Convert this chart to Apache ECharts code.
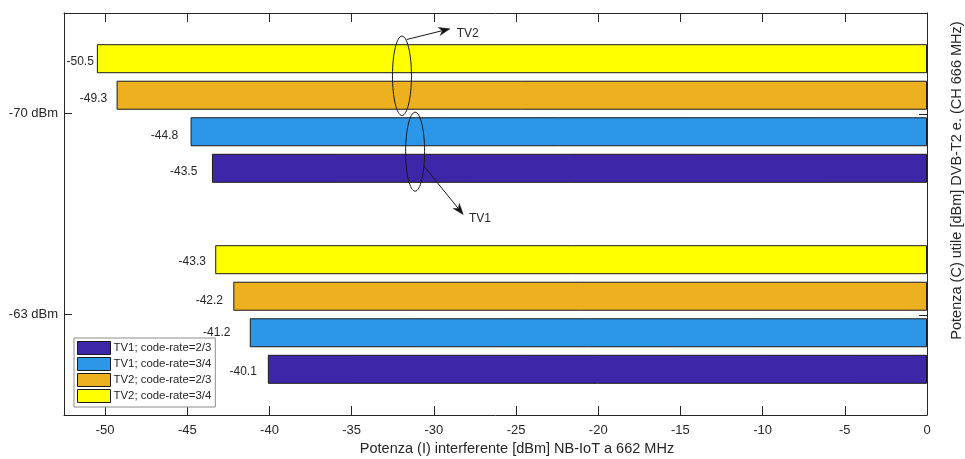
<!DOCTYPE html>
<html>
<head>
<meta charset="utf-8">
<script src="https://cdn.jsdelivr.net/npm/echarts@6/dist/echarts.min.js"></script>
<style>
  html, body { margin: 0; padding: 0; background: #fff; }
  #chart { width: 965px; height: 459px; }
</style>
</head>
<body>
<div id="chart"></div>
<script>
// Received DVB-T2 power levels (categories) and the NB-IoT interferer power at threshold
const categories = ['-70 dBm', '-63 dBm'];
const seriesNames = ['TV1; code-rate=2/3', 'TV1; code-rate=3/4', 'TV2; code-rate=2/3', 'TV2; code-rate=3/4'];
const tv1Rate23 = [-43.5, -40.1];
const tv1Rate34 = [-44.8, -41.2];
const tv2Rate23 = [-49.3, -42.2];
const tv2Rate34 = [-50.5, -43.3];
const xTicks = [-50, -45, -40, -35, -30, -25, -20, -15, -10, -5, 0];

// Value-label placement: [gap to bar end (px), vertical nudge (px)] per category
const labelNudge23tv1 = [[14.6, 3], [11, 2.5]];
const labelNudge34tv1 = [[12.4, 3.7], [19.3, -0.3]];
const labelNudge23tv2 = [[9.4, 3], [10.3, 4.5]];
const labelNudge34tv2 = [[3, 2.5], [9.3, 1.7]];

const colors = ['#3e26a8', '#2c97e8', '#edb120', '#ffff00'];
const FONT = '"Liberation Sans", Arial, Helvetica, sans-serif';
const INK = '#262626';

function buildData(values, nudges) {
  return values.map((v, i) => ({
    value: v,
    label: { distance: nudges[i][0], offset: [0, nudges[i][1]] }
  }));
}

// Within a category the first series is drawn on top, so TV2 3/4 goes first
const seriesDefs = [
  { name: seriesNames[3], values: tv2Rate34, nudge: labelNudge34tv2, color: colors[3] },
  { name: seriesNames[2], values: tv2Rate23, nudge: labelNudge23tv2, color: colors[2] },
  { name: seriesNames[1], values: tv1Rate34, nudge: labelNudge34tv1, color: colors[1] },
  { name: seriesNames[0], values: tv1Rate23, nudge: labelNudge23tv1, color: colors[0] }
];

const chart = echarts.init(document.getElementById('chart'), null, { renderer: 'canvas' });

const valueAxisBase = {
  type: 'value',
  min: -52.5,
  max: 0,
  splitLine: { show: false },
  axisLine: { show: true, onZero: false, lineStyle: { color: INK, width: 1 } },
  axisTick: { show: true, inside: true, length: 9, customValues: xTicks, lineStyle: { color: INK } }
};

chart.setOption({
  animation: false,
  textStyle: { fontFamily: FONT },
  grid: { left: 64, top: 13, width: 863, height: 402, containLabel: false },
  xAxis: [
    Object.assign({}, valueAxisBase, {
      position: 'bottom',
      axisLabel: {
        show: true, customValues: xTicks, fontSize: 13, color: INK, margin: 9,
        fontFamily: FONT, formatter: v => String(v)
      }
    }),
    Object.assign({}, valueAxisBase, {
      position: 'top',
      axisLabel: { show: false }
    })
  ],
  yAxis: [
    {
      type: 'category',
      data: categories,
      inverse: true,
      position: 'left',
      axisLine: { show: true, onZero: false, lineStyle: { color: INK, width: 1 } },
      axisTick: { show: true, inside: true, length: 8, alignWithLabel: true, lineStyle: { color: INK } },
      axisLabel: { show: true, fontSize: 13, color: INK, margin: 6, fontFamily: FONT },
      splitLine: { show: false }
    },
    {
      type: 'category',
      data: categories,
      inverse: true,
      position: 'right',
      axisLine: { show: true, onZero: false, lineStyle: { color: INK, width: 1 } },
      axisTick: { show: false },
      axisLabel: { show: false },
      splitLine: { show: false }
    }
  ],
  legend: {
    orient: 'vertical',
    left: 74,
    top: 338,
    data: seriesNames,
    icon: 'rect',
    itemWidth: 33,
    itemHeight: 13,
    itemGap: 2,
    padding: [3, 4, 4, 3],
    backgroundColor: '#fff',
    borderColor: '#8c8c8c',
    borderWidth: 1,
    borderRadius: 0,
    textStyle: { fontSize: 11.4, lineHeight: 13, color: INK, fontFamily: FONT, padding: [0, 0, 0, -2] },
    itemStyle: { borderColor: '#1a1a1a', borderWidth: 1 }
  },
  series: seriesDefs.map(d => ({
    type: 'bar',
    name: d.name,
    xAxisIndex: 0,
    yAxisIndex: 0,
    barWidth: 29,
    barGap: '26%',
    data: buildData(d.values, d.nudge),
    itemStyle: { color: d.color, borderColor: '#1a1a1a', borderWidth: 1 },
    label: {
      show: true,
      position: 'left',
      fontSize: 12,
      color: INK,
      fontFamily: FONT,
      formatter: p => p.value.toFixed(1)
    }
  }))
});

// Annotation ellipses and arrows marking the TV1 / TV2 bar pairs
function arrowHead(x1, y1, x2, y2, len, half) {
  const a = Math.atan2(y2 - y1, x2 - x1);
  const c = Math.cos(a), s = Math.sin(a);
  const bx = x2 - len * c, by = y2 - len * s;
  const nx = x2 - len * 0.7 * c, ny = y2 - len * 0.7 * s;
  return [[x2, y2], [bx - half * s, by + half * c], [nx, ny], [bx + half * s, by - half * c]];
}

function annotation(center, ell, start, end, textPos, label) {
  const cx = center[0], cy = center[1];
  const x1 = cx + start[0], y1 = cy + start[1];
  const x2 = cx + end[0], y2 = cy + end[1];
  const head = arrowHead(x1, y1, x2, y2, 11, 4);
  return [
    { type: 'ellipse', shape: { cx: cx, cy: cy, rx: ell[0], ry: ell[1] },
      style: { fill: 'none', stroke: '#1a1a1a', lineWidth: 1 }, z: 100 },
    { type: 'line', shape: { x1: x1, y1: y1, x2: head[2][0], y2: head[2][1] },
      style: { stroke: '#1a1a1a', lineWidth: 1 }, z: 100 },
    { type: 'polygon', shape: { points: head }, style: { fill: '#111', stroke: '#111', lineWidth: 0.5 }, z: 100 },
    { type: 'text', x: cx + textPos[0], y: cy + textPos[1],
      style: { text: label, font: '12px ' + FONT, fill: INK, verticalAlign: 'middle', textAlign: 'left' }, z: 100 }
  ];
}

const topCenter = chart.convertToPixel({ gridIndex: 0 }, [-31.94, 0]);
const tv2Center = [topCenter[0], topCenter[1] - 37.7];
const tv1Ref = chart.convertToPixel({ gridIndex: 0 }, [-31.14, 0]);
const tv1Center = [tv1Ref[0], tv1Ref[1] + 38.2];

// Inward ticks on the right-hand frame edge, one per category
const rightEdge = chart.convertToPixel({ xAxisIndex: 0 }, 0);
const rightTicks = categories.map((c, i) => {
  const y = Math.round(chart.convertToPixel({ yAxisIndex: 0 }, c)) + 0.5;
  return { type: 'line', shape: { x1: rightEdge - 8, y1: y, x2: rightEdge, y2: y },
           style: { stroke: INK, lineWidth: 1 }, z: 50 };
});

const graphics = []
  .concat(annotation(tv2Center, [9.5, 39.7], [4.7, -36.3], [48, -47], [54.7, -42], 'TV2'))
  .concat(annotation(tv1Center, [9.5, 39.5], [8.8, 14.5], [48.1, 62.8], [53.8, 66.8], 'TV1'))
  .concat(rightTicks)
  .concat([
    { type: 'text', x: 517, y: 449,
      style: { text: 'Potenza (I) interferente [dBm] NB-IoT a 662 MHz', font: '14.5px ' + FONT,
               fill: INK, textAlign: 'center', verticalAlign: 'middle' } },
    { type: 'text', x: 957, y: 180.5, rotation: Math.PI / 2,
      style: { text: 'Potenza (C) utile [dBm] DVB-T2 e. (CH 666 MHz)', font: '14.5px ' + FONT,
               fill: INK, textAlign: 'center', verticalAlign: 'middle' } }
  ]);

chart.setOption({ graphic: graphics });
</script>
</body>
</html>
